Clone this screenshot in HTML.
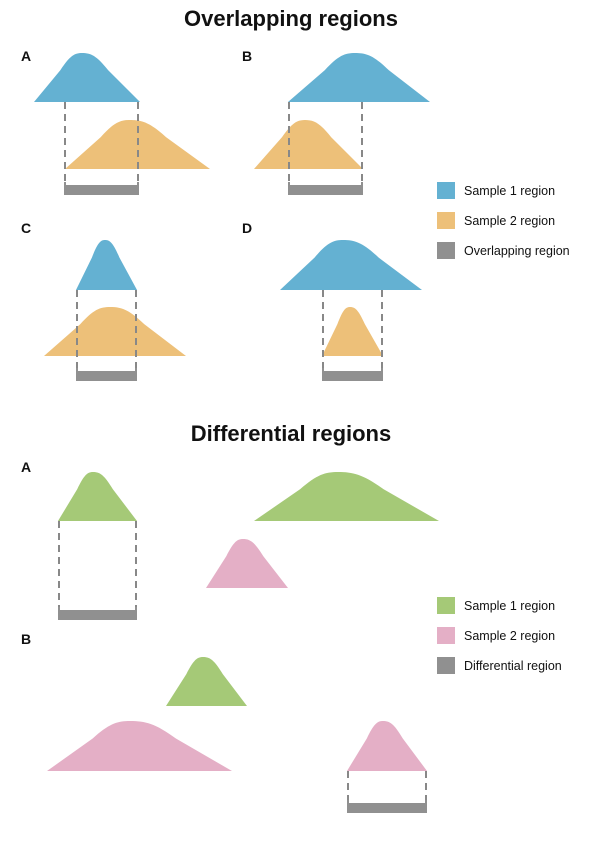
<!DOCTYPE html>
<html><head><meta charset="utf-8"><style>
html,body{margin:0;padding:0;background:#fff;}
svg text{font-family:"Liberation Sans",sans-serif;fill:#111;}
</style></head><body>
<svg id="fig" width="594" height="842" viewBox="0 0 594 842" xmlns="http://www.w3.org/2000/svg">
<text x="291" y="26" text-anchor="middle" font-size="22" font-weight="bold">Overlapping regions</text>
<text x="291" y="441" text-anchor="middle" font-size="22" font-weight="bold">Differential regions</text>
<text x="21" y="61" font-size="14" font-weight="bold">A</text>
<text x="242" y="61" font-size="14" font-weight="bold">B</text>
<text x="21" y="233" font-size="14" font-weight="bold">C</text>
<text x="242" y="233" font-size="14" font-weight="bold">D</text>
<text x="21" y="472" font-size="14" font-weight="bold">A</text>
<text x="21" y="644" font-size="14" font-weight="bold">B</text>
</svg>
<script>
// peaks: [x0, x1, peakX, topY, baseY, color]
const peaks = [
 [34,140,82,53,102,'#64b1d2'],[65,210,130,120,169,'#edc079'],
 [288,430,355,53,102,'#64b1d2'],[254,363,305,120,169,'#edc079'],
 [76,137,105,240,290,'#64b1d2'],[44,186,110,307,356,'#edc079'],
 [280,422,343,240,290,'#64b1d2'],[322,383,350,307,356,'#edc079'],
 [58,137,93,472,521,'#a5c977'],[254,439,338,472,521,'#a5c977'],[206,288,243,539,588,'#e4afc6'],
 [166,247,203,657,706,'#a5c977'],[47,232,130,721,771,'#e4afc6'],[347,427,383,721,771,'#e4afc6']
];
// bars: [x0, x1, dashTop, barTop]
const bars = [[64,139,102,182],[288,363,102,182],[76,137,290,368],[322,383,290,368],[58,137,521,607],[347,427,771,800]];
const legendItems = [['Sample 1 region','#64b1d2',182],['Sample 2 region','#edc079',212],['Overlapping region','#909090',242],
 ['Sample 1 region','#a5c977',597],['Sample 2 region','#e4afc6',627],['Differential region','#909090',657]];
const NS='http://www.w3.org/2000/svg', svg=document.getElementById('fig');
function mk(t,a){const e=document.createElementNS(NS,t);for(const k in a)e.setAttribute(k,a[k]);svg.appendChild(e);return e;}
peaks.forEach(p=>{
 const [x0,x1,px,t,b,c]=p,h=b-t,L=px-x0,R=x1-px;
 const d=`M${x0},${b} L${x0+0.55*L},${t+0.35*h} C${x0+0.75*L},${t+0.05*h} ${px-0.15*L},${t} ${px},${t} C${px+0.15*R},${t} ${x1-0.75*R},${t+0.05*h} ${x1-0.55*R},${t+0.35*h} L${x1},${b} Z`;
 const e=mk('path',{d:d,fill:c});
 
 
});
bars.forEach(r=>{
 const [x0,x1,dt,bt]=r;
 [x0+1,x1-1].forEach(x=>{
  const l=mk('line',{x1:x,y1:dt,x2:x,y2:bt,stroke:'#888',"stroke-width":2,"stroke-dasharray":'7,5'});
  
  
 });
 const g=mk('rect',{x:x0,y:bt+3,width:x1-x0,height:10,fill:'#909090'});
 
 
 [x0,x1-2].forEach(x=>{const k=mk('rect',{x:x,y:bt,width:2,height:5,fill:'#909090'});
  
  });
});
legendItems.forEach(it=>{
 const s=mk('rect',{x:437,y:it[2],width:18,height:17,fill:it[1]});
 
 
 const tx=mk('text',{x:464,y:it[2]+13,"font-size":12.5});
 tx.textContent=it[0];
 
 
});
</script>
</body></html>
